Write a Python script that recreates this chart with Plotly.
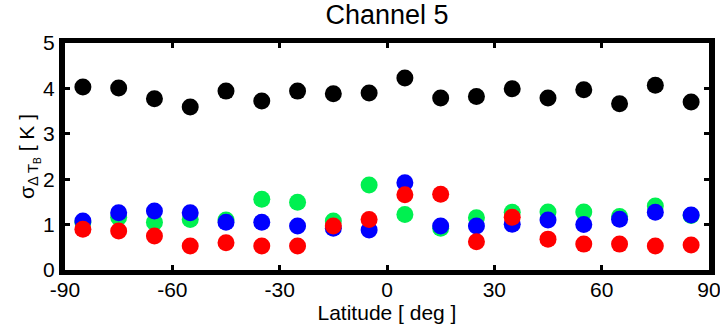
import plotly.graph_objects as go

latitude = [-85, -75, -65, -55, -45, -35, -25, -15, -5, 5, 15, 25, 35, 45, 55, 65, 75, 85]
black_vals = [4.03, 4.01, 3.77, 3.59, 3.94, 3.72, 3.94, 3.88, 3.90, 4.23, 3.79, 3.82, 3.99, 3.79, 3.97, 3.66, 4.07, 3.70]
green_vals = [1.05, 1.16, 1.05, 1.11, 1.10, 1.56, 1.49, 1.08, 1.87, 1.22, 0.92, 1.15, 1.27, 1.28, 1.28, 1.18, 1.41, 1.20]
blue_vals = [1.08, 1.26, 1.30, 1.26, 1.05, 1.05, 0.97, 0.92, 0.88, 1.92, 0.97, 0.97, 1.01, 1.10, 1.00, 1.12, 1.27, 1.21]
red_vals = [0.90, 0.86, 0.75, 0.53, 0.60, 0.53, 0.53, 0.97, 1.11, 1.66, 1.67, 0.62, 1.16, 0.68, 0.57, 0.57, 0.53, 0.55]

x_ticks = [-90, -60, -30, 0, 30, 60, 90]
y_ticks = [0, 1, 2, 3, 4, 5]

series = [
    (black_vals, "#000000"),
    (green_vals, "#00F050"),
    (blue_vals, "#0000FF"),
    (red_vals, "#FF0000"),
]

FONT = "Liberation Sans, Arial, Helvetica, sans-serif"

fig = go.Figure()
for vals, col in series:
    fig.add_trace(go.Scatter(
        x=latitude, y=vals, mode="markers",
        marker=dict(size=17, color=col, line=dict(width=0)),
        showlegend=False, hoverinfo="skip",
    ))

fig.update_layout(
    width=720, height=331,
    margin=dict(l=65, r=11, t=43, b=61),
    paper_bgcolor="white", plot_bgcolor="white",
    font=dict(family=FONT, color="black", size=21),
    title=dict(text="Channel 5", x=0.5, xref="paper", xanchor="center",
               y=1 - 15 / 331, yref="container", yanchor="middle",
               font=dict(size=27, family=FONT, color="black")),
)
fig.update_xaxes(
    range=[-90, 90], tickvals=x_ticks, ticktext=[str(v) for v in x_ticks],
    ticks="inside", ticklen=5, tickwidth=3, tickcolor="black",
    showline=True, linewidth=5, linecolor="black", mirror="allticks",
    showgrid=False, zeroline=False,
    tickfont=dict(size=21, family=FONT, color="black"),
    ticklabeloverflow="allow", ticklabelstandoff=-3,
    title=dict(text="Latitude [ deg ]", font=dict(size=21, family=FONT, color="black"), standoff=0),
    automargin=False,
)
fig.update_yaxes(
    range=[0, 5], tickvals=y_ticks, ticktext=[str(v) for v in y_ticks],
    ticks="inside", ticklen=5, tickwidth=3, tickcolor="black",
    showline=True, linewidth=6, linecolor="black", mirror="allticks",
    showgrid=False, zeroline=False,
    tickfont=dict(size=21, family=FONT, color="black"),
    ticklabeloverflow="allow",
    title=dict(text="σ<sub>Δ T<sub>B</sub></sub> [ K ]", font=dict(size=21, family=FONT, color="black"), standoff=4),
    automargin=False,
)

fig.write_html("out.html")
